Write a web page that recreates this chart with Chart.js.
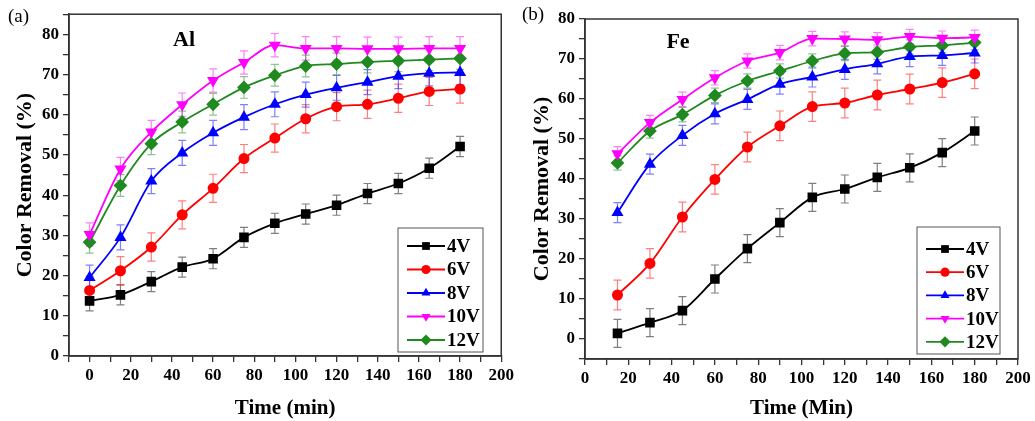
<!DOCTYPE html>
<html>
<head>
<meta charset="utf-8">
<script src="https://cdn.jsdelivr.net/npm/chart.js@4.4.1/dist/chart.umd.min.js"></script>
<style>
html, body { margin: 0; padding: 0; background: #fff; }
#wrap { position: relative; width: 1035px; height: 421px; }
.panel { position: absolute; top: 0; height: 421px; }
</style>
</head>
<body>
<div id="wrap">
  <div class="panel" style="left:0;width:517px"><canvas id="chartAl"></canvas></div>
  <div class="panel" style="left:517px;width:518px"><canvas id="chartFe"></canvas></div>
</div>
<script>
// --- data ---
const seriesNames = ['4V', '6V', '8V', '10V', '12V'];

const timeAl = [0, 15, 30, 45, 60, 75, 90, 105, 120, 135, 150, 165, 180];
const al4V  = [13.7, 15.2, 18.5, 22.1, 24.2, 29.5, 33.0, 35.3, 37.5, 40.4, 42.9, 46.7, 52.1];
const al6V  = [16.3, 21.2, 27.1, 35.1, 41.7, 49.1, 54.2, 59.0, 62.0, 62.6, 64.1, 65.8, 66.4];
const al8V  = [19.5, 29.5, 43.5, 50.5, 55.5, 59.4, 62.6, 65.0, 66.7, 68.1, 69.6, 70.3, 70.5];
const al10V = [30.2, 46.5, 55.7, 62.5, 68.5, 73.0, 77.3, 76.5, 76.5, 76.4, 76.4, 76.5, 76.5];
const al12V = [28.3, 42.4, 52.8, 58.2, 62.6, 66.8, 69.8, 72.1, 72.6, 73.1, 73.4, 73.7, 74.0];
const alErr = [2.5, 3.5, 3.1, 2.9, 2.7];

const timeFe = [15, 30, 45, 60, 75, 90, 105, 120, 135, 150, 165, 180];
const fe4V  = [1.4, 4.1, 7.1, 15.0, 22.6, 29.1, 35.4, 37.5, 40.4, 42.8, 46.6, 52.0];
const fe6V  = [11.0, 18.9, 30.5, 39.9, 48.0, 53.3, 58.1, 59.0, 61.0, 62.5, 64.1, 66.3];
const fe8V  = [31.6, 43.7, 50.9, 56.3, 59.9, 63.7, 65.5, 67.4, 68.8, 70.6, 70.9, 71.5];
const fe10V = [46.3, 54.1, 59.9, 65.3, 69.5, 71.6, 75.1, 75.0, 74.8, 75.6, 75.2, 75.4];
const fe12V = [44.0, 52.0, 56.1, 60.9, 64.5, 67.0, 69.5, 71.4, 71.7, 73.0, 73.4, 74.1];
const feErr = [3.5, 3.7, 2.5, 1.8, 1.8];

const seriesColors = ['#000000', '#ff0000', '#0000ff', '#ff00ff', '#1f8a1f'];
const seriesMarkers = ['rect', 'circle', 'triangle', 'triangle', 'rectRot'];
const markerRotation = [0, 0, 0, 180, 0];
const markerRadius = [5.5, 4.6, 5.2, 5.2, 5.6];

const FONT = '"Liberation Serif", "Times New Roman", serif';

function hexAlpha(hex, a) {
    const n = parseInt(hex.slice(1), 16);
    return 'rgba(' + (n >> 16) + ',' + ((n >> 8) & 255) + ',' + (n & 255) + ',' + a + ')';
}

function makeDatasets(times, valueLists, errs) {
    return valueLists.map((vals, i) => ({
        label: seriesNames[i],
        data: vals.map((v, k) => ({ x: times[k], y: v })),
        errors: errs[i],
        borderColor: seriesColors[i],
        backgroundColor: seriesColors[i],
        pointBackgroundColor: seriesColors[i],
        pointBorderColor: seriesColors[i],
        pointStyle: seriesMarkers[i],
        pointRotation: markerRotation[i],
        pointRadius: markerRadius[i],
        borderWidth: 1.8,
        cubicInterpolationMode: 'monotone',
        fill: false
    }));
}

// error bars, drawn under the lines
const errorBars = {
    id: 'errorBars',
    beforeDatasetsDraw(chart) {
        const ctx = chart.ctx, xs = chart.scales.x, ys = chart.scales.y;
        ctx.save();
        chart.data.datasets.forEach(ds => {
            ctx.strokeStyle = hexAlpha(ds.borderColor, 0.5);
            ctx.lineWidth = 1.2;
            ds.data.forEach(p => {
                const px = xs.getPixelForValue(p.x);
                const top = ys.getPixelForValue(p.y + ds.errors);
                const bot = ys.getPixelForValue(p.y - ds.errors);
                ctx.beginPath();
                ctx.moveTo(px, top); ctx.lineTo(px, bot);
                ctx.moveTo(px - 4, top); ctx.lineTo(px + 4, top);
                ctx.moveTo(px - 4, bot); ctx.lineTo(px + 4, bot);
                ctx.stroke();
            });
        });
        ctx.restore();
    }
};

function drawMarker(ctx, style, rot, r, x, y) {
    ctx.beginPath();
    if (style === 'rect') {
        const s = Math.SQRT1_2 * r;
        ctx.rect(x - s, y - s, 2 * s, 2 * s);
    } else if (style === 'circle') {
        ctx.arc(x, y, r, 0, Math.PI * 2);
    } else if (style === 'triangle') {
        const d = rot ? -1 : 1;
        ctx.moveTo(x, y - d * r);
        ctx.lineTo(x + r * 0.866, y + d * r * 0.5);
        ctx.lineTo(x - r * 0.866, y + d * r * 0.5);
        ctx.closePath();
    } else {
        ctx.moveTo(x, y - r); ctx.lineTo(x + r, y); ctx.lineTo(x, y + r); ctx.lineTo(x - r, y);
        ctx.closePath();
    }
    ctx.fill();
}

// frame, panel letter, metal label and boxed legend
const decorations = {
    id: 'decorations',
    afterDraw(chart, args, opts) {
        const ctx = chart.ctx, a = chart.chartArea;
        ctx.save();
        ctx.strokeStyle = '#333';
        ctx.lineWidth = 1.5;
        ctx.strokeRect(a.left, a.top, a.right - a.left, a.bottom - a.top);

        ctx.fillStyle = '#000';
        ctx.textBaseline = 'middle';
        ctx.textAlign = 'left';
        ctx.font = '19px ' + FONT;
        ctx.fillText(opts.panel, opts.panelX, opts.panelY);
        ctx.textAlign = 'center';
        ctx.font = 'bold 22px ' + FONT;
        ctx.fillText(opts.metal, opts.metalX, opts.metalY);

        const L = opts.legend;
        ctx.strokeStyle = '#555';
        ctx.lineWidth = 1;
        ctx.strokeRect(L.x, L.y, L.w, L.h);
        ctx.font = 'bold 19px ' + FONT;
        ctx.textAlign = 'left';
        chart.data.datasets.forEach((ds, i) => {
            const y = L.y + L.first + i * L.step;
            ctx.strokeStyle = ds.borderColor;
            ctx.lineWidth = 1.8;
            ctx.beginPath();
            ctx.moveTo(L.x + 9, y); ctx.lineTo(L.x + 47, y);
            ctx.stroke();
            ctx.fillStyle = ds.borderColor;
            drawMarker(ctx, ds.pointStyle, ds.pointRotation, ds.pointRadius, L.x + 28, y);
            ctx.fillStyle = '#000';
            ctx.fillText(ds.label, L.x + 49, y + 1);
        });
        ctx.restore();
    }
};

function makeChart(canvasId, datasets, cfg) {
    const tickFont = { family: FONT, size: 17, weight: 'bold' };
    return new Chart(document.getElementById(canvasId), {
        type: 'line',
        data: { datasets: datasets },
        options: {
            responsive: true,
            maintainAspectRatio: false,
            animation: false,
            layout: { padding: { top: cfg.top, right: cfg.right, left: 0, bottom: 0 } },
            plugins: {
                legend: { display: false },
                tooltip: { enabled: false },
                decorations: cfg.deco
            },
            scales: {
                x: {
                    type: 'linear',
                    min: cfg.xMin, max: 200,
                    afterFit: s => { s.height = cfg.xHeight; },
                    ticks: {
                        stepSize: 10, color: '#000', font: tickFont, padding: 3, maxRotation: 0,
                        autoSkip: false,
                        callback: v => (v >= 0 && v % 20 === 0) ? v : ''
                    },
                    grid: { drawOnChartArea: false, tickLength: 6, color: '#333', lineWidth: 1.3 },
                    border: { color: '#333', width: 1.5 },
                    title: { display: true, text: cfg.xTitle, color: '#000',
                             font: { family: FONT, size: 21, weight: 'bold' }, padding: { top: 0, bottom: 0 } }
                },
                y: {
                    min: cfg.yMin, max: cfg.yMax,
                    afterFit: s => { s.width = cfg.yWidth; },
                    ticks: {
                        stepSize: 5, color: '#000', font: tickFont, padding: 4, autoSkip: false,
                        callback: v => (v >= 0 && v % 10 === 0 && v <= 80) ? v : ''
                    },
                    grid: { drawOnChartArea: false, tickLength: 6, color: '#333', lineWidth: 1.3 },
                    border: { color: '#333', width: 1.5 },
                    title: { display: true, text: 'Color Removal (%)', color: '#000',
                             font: { family: FONT, size: 22, weight: 'bold' }, padding: { top: 12, bottom: 0 } }
                }
            }
        },
        plugins: [errorBars, decorations]
    });
}

makeChart('chartAl', makeDatasets(timeAl, [al4V, al6V, al8V, al10V, al12V], alErr), {
    top: 13, right: 15, xMin: -10, yMin: 0, yMax: 85, xHeight: 65, yWidth: 69,
    xTitle: 'Time (min)',
    deco: {
        panel: '(a)', panelX: 8, panelY: 17, metal: 'Al', metalX: 184, metalY: 40,
        legend: { x: 398, y: 228, w: 85, h: 124, first: 18, step: 23.5 }
    }
});

makeChart('chartFe', makeDatasets(timeFe, [fe4V, fe6V, fe8V, fe10V, fe12V], feErr), {
    top: 19, right: 17, xMin: 0, yMin: -5, yMax: 80, xHeight: 62, yWidth: 68,
    xTitle: 'Time (Min)',
    deco: {
        panel: '(b)', panelX: 5, panelY: 15, metal: 'Fe', metalX: 161, metalY: 42,
        legend: { x: 400, y: 227, w: 83, h: 127, first: 22, step: 23.2 }
    }
});
</script>
</body>
</html>
